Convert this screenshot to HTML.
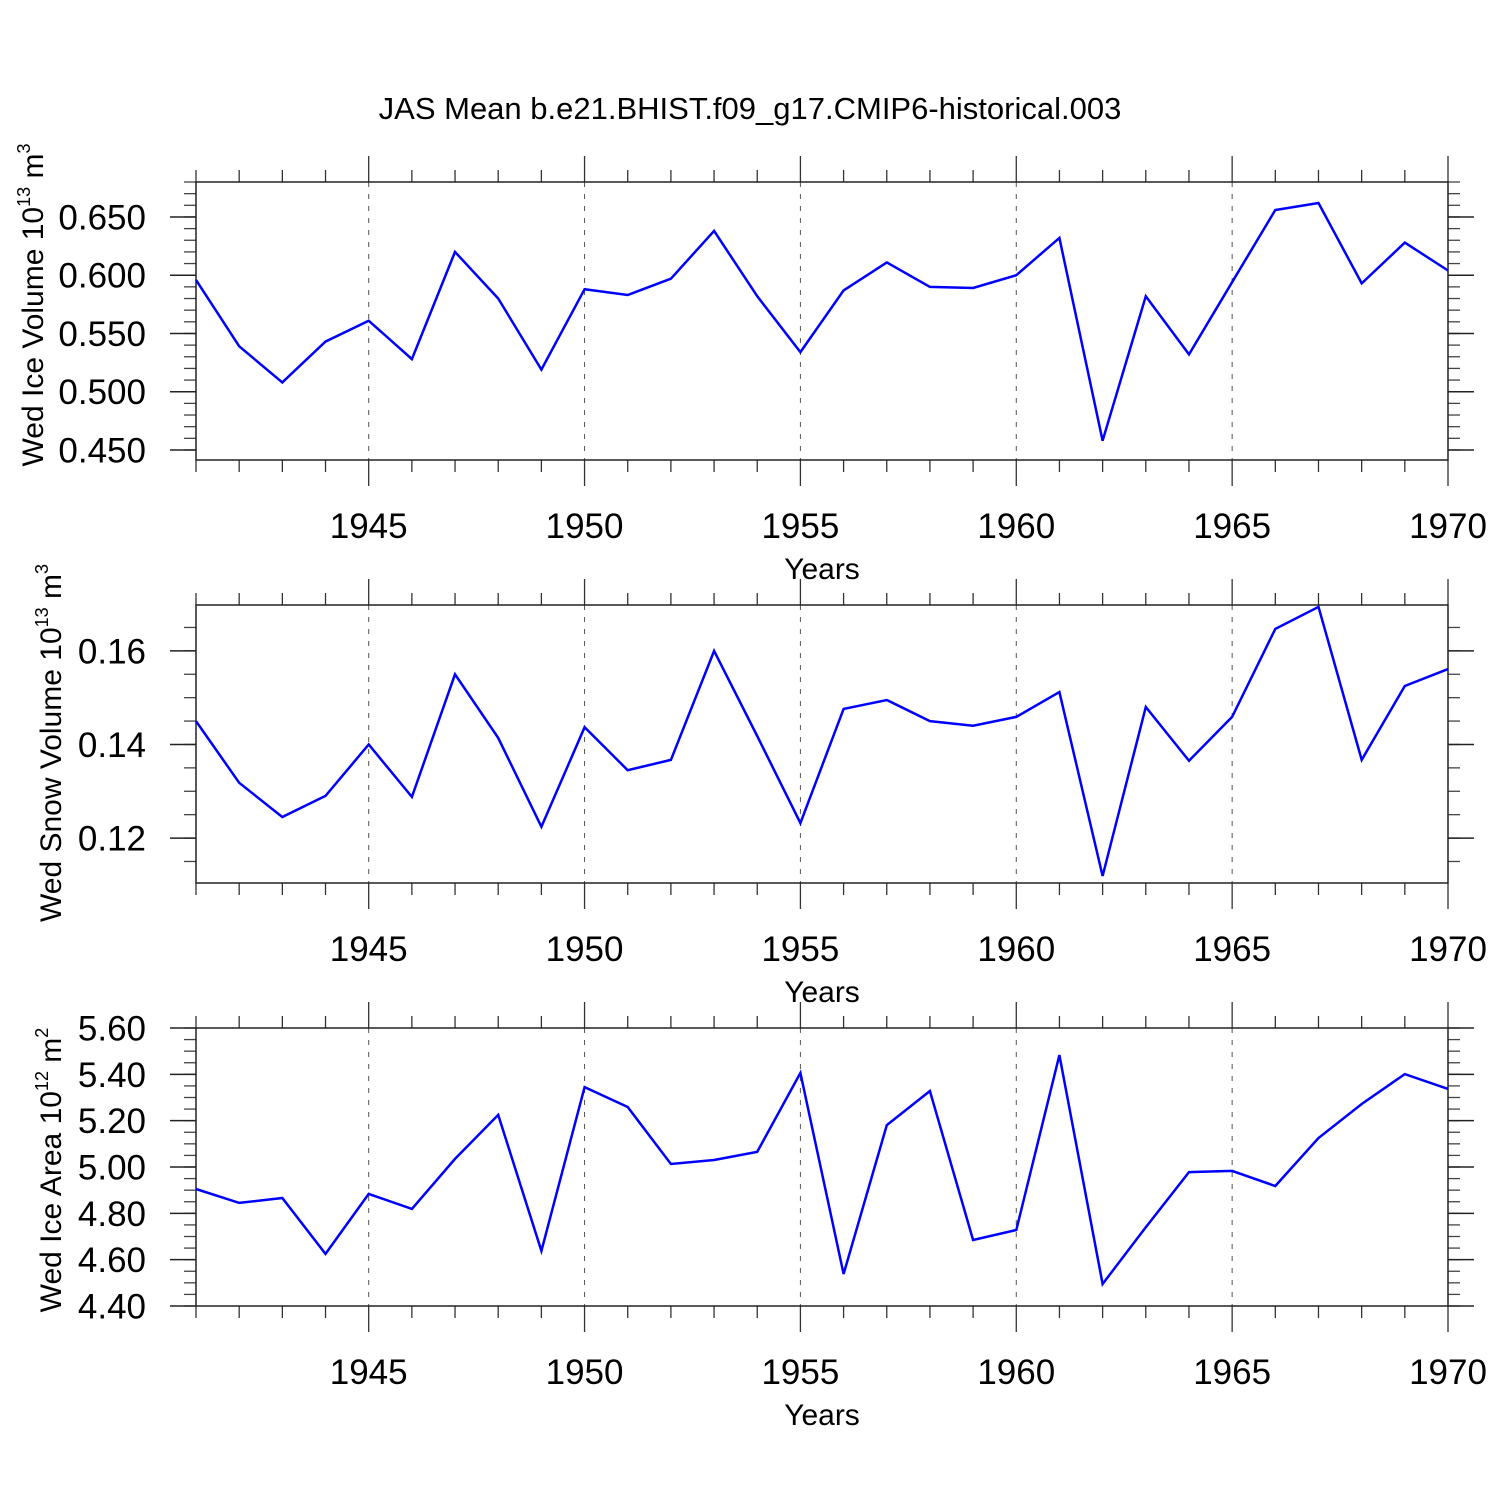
<!DOCTYPE html>
<html><head><meta charset="utf-8"><style>
html,body{margin:0;padding:0;background:#fff;}
svg{display:block;font-family:"Liberation Sans",Arial,sans-serif;}
</style></head><body>
<svg id="chart" width="1500" height="1500" viewBox="0 0 1500 1500" xmlns="http://www.w3.org/2000/svg">
<rect width="1500" height="1500" fill="#fff"/>
<text x="750" y="119" font-size="31" text-anchor="middle">JAS Mean b.e21.BHIST.f09_g17.CMIP6-historical.003</text>
</svg>
<script>
const years = [1941,1942,1943,1944,1945,1946,1947,1948,1949,1950,1951,1952,1953,1954,1955,1956,1957,1958,1959,1960,1961,1962,1963,1964,1965,1966,1967,1968,1969,1970];
const iceVolume = [0.596,0.539,0.508,0.543,0.561,0.528,0.620,0.580,0.519,0.588,0.583,0.597,0.638,0.582,0.534,0.587,0.611,0.590,0.589,0.600,0.632,0.458,0.582,0.532,0.594,0.656,0.662,0.593,0.628,0.604];
const snowVolume = [0.145,0.1318,0.1245,0.129,0.140,0.1288,0.155,0.1414,0.1224,0.1437,0.1345,0.1367,0.1600,0.1418,0.1232,0.1476,0.1495,0.1450,0.1440,0.1459,0.1512,0.1119,0.1480,0.1365,0.1459,0.1647,0.1694,0.1367,0.1525,0.1561];
const iceArea = [4.905,4.845,4.866,4.625,4.884,4.819,5.035,5.225,4.638,5.345,5.259,5.013,5.030,5.065,5.406,4.538,5.181,5.328,4.685,4.728,5.483,4.495,4.740,4.978,4.983,4.918,5.125,5.272,5.401,5.337];
const xTickLabels = [1945,1950,1955,1960,1965,1970];
const iceVolTicks = ["0.450","0.500","0.550","0.600","0.650"];
const snowTicks = ["0.12","0.14","0.16"];
const areaTicks = ["4.40","4.60","4.80","5.00","5.20","5.40","5.60"];

const NS="http://www.w3.org/2000/svg";
const svg=document.getElementById('chart');
const X0=196,X1=1448,YR0=1941,YR1=1970;
function xs(yr){return X0+(yr-YR0)*(X1-X0)/(YR1-YR0);}
function mk(tag,attrs,parent){const e=document.createElementNS(NS,tag);for(const k in attrs)e.setAttribute(k,attrs[k]);(parent||svg).appendChild(e);return e;}

const panels=[
 {name:'ice-volume',top:182,bot:460,min:0.4414,max:0.680,data:iceVolume,ticks:iceVolTicks,minor:0.01,title:['Wed Ice Volume 10','13',' m','3'],tx:32,cy:305},
 {name:'snow-volume',top:605,bot:883,min:0.1104,max:0.1698,data:snowVolume,ticks:snowTicks,minor:0.005,title:['Wed Snow Volume 10','13',' m','3'],tx:50,cy:743},
 {name:'ice-area',top:1028,bot:1306,min:4.40,max:5.60,data:iceArea,ticks:areaTicks,minor:0.05,title:['Wed Ice Area 10','12',' m','2'],tx:50,cy:1170}
];
panels.forEach(p=>{
 const g=mk('g',{});
 
 
 const ys=v=>p.bot-(v-p.min)/(p.max-p.min)*(p.bot-p.top);
 xTickLabels.forEach(yr=>{ if(yr<YR1){const l=mk('line',{x1:xs(yr),x2:xs(yr),y1:p.top,y2:p.bot,stroke:'#555','stroke-width':1,'stroke-dasharray':'5,7'},g);
  
  }});
 years.forEach(yr=>{
  const major=xTickLabels.includes(yr);const L=major?26:12;
  mk('line',{x1:xs(yr),x2:xs(yr),y1:p.top-L,y2:p.top,stroke:'#333','stroke-width':1.3},g);
  mk('line',{x1:xs(yr),x2:xs(yr),y1:p.bot,y2:p.bot+L,stroke:'#333','stroke-width':1.3},g);
 });
 xTickLabels.forEach(yr=>{const t=mk('text',{x:xs(yr),y:p.bot+78,'font-size':35,'text-anchor':'middle'},g);t.textContent=yr;
  
  });
 const xt=mk('text',{x:822,y:p.bot+119,'font-size':30,'text-anchor':'middle'},g);xt.textContent='Years';
 
 
 const n=Math.round((p.max-p.min)/p.minor)+2;
 const start=Math.ceil(p.min/p.minor-1e-6)*p.minor;
 for(let i=0;i<n;i++){const v=start+i*p.minor;if(v>p.max+1e-9)break;const y=ys(v);
  mk('line',{x1:X0-12,x2:X0,y1:y,y2:y,stroke:'#444','stroke-width':1.3},g);
  mk('line',{x1:X1,x2:X1+12,y1:y,y2:y,stroke:'#444','stroke-width':1.3},g);}
 p.ticks.forEach(s=>{const y=ys(parseFloat(s));
  mk('line',{x1:X0-26,x2:X0,y1:y,y2:y,stroke:'#222','stroke-width':1.5},g);
  mk('line',{x1:X1,x2:X1+26,y1:y,y2:y,stroke:'#222','stroke-width':1.5},g);
  const t=mk('text',{x:146,y:y+12.5,'font-size':35,'text-anchor':'end'},g);t.textContent=s;
  
  });
 const fr=mk('rect',{x:X0,y:p.top,width:X1-X0,height:p.bot-p.top,fill:'none',stroke:'#222','stroke-width':1.5},g);
 
 
 const pts=p.data.map((v,i)=>xs(years[i]).toFixed(1)+','+ys(v).toFixed(1)).join(' ');
 const pl=mk('polyline',{points:pts,fill:'none',stroke:'#0000ff','stroke-width':2.5,'stroke-linejoin':'miter'},g);
 
 
 const t=mk('text',{x:0,y:0,'font-size':30,'text-anchor':'middle',transform:`translate(${p.tx+11},${p.cy}) rotate(-90)`},g);
 
 
 const a=mk('tspan',{},t);a.textContent=p.title[0];
 const b=mk('tspan',{'font-size':18,dy:-13},t);b.textContent=p.title[1];
 const c=mk('tspan',{dy:13},t);c.textContent=p.title[2];
 const d=mk('tspan',{'font-size':18,dy:-13},t);d.textContent=p.title[3];
});
</script>
</body></html>
